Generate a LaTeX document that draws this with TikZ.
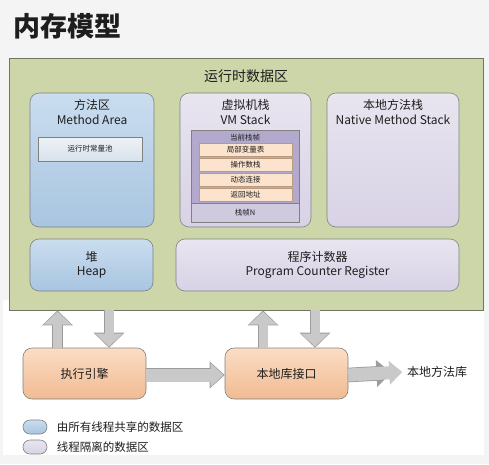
\documentclass[tikz,border=0pt]{standalone}
\usepackage{fontspec}
\setmainfont{Noto Sans CJK SC}
\usepackage{tikz}
\usetikzlibrary{arrows.meta,positioning}

\definecolor{paper}{HTML}{F4F4F4}
\definecolor{ink}{HTML}{1E1E1E}
\definecolor{edge}{HTML}{808080}
\definecolor{leaf}{HTML}{CDD6A8}
\definecolor{leafedge}{HTML}{6E7563}
\definecolor{blueA}{HTML}{CADDEF}
\definecolor{blueB}{HTML}{A8C5E0}
\definecolor{lilacA}{HTML}{E8E5F0}
\definecolor{lilacB}{HTML}{D8D2E5}
\definecolor{plum}{HTML}{B3A9CC}
\definecolor{plumlight}{HTML}{D0CADF}
\definecolor{rowfill}{HTML}{FBE3CD}
\definecolor{rowedge}{HTML}{B89A80}
\definecolor{peachA}{HTML}{FBDDC5}
\definecolor{peachB}{HTML}{F0BB92}
\definecolor{poolA}{HTML}{EEF2F6}
\definecolor{poolB}{HTML}{D8E2EC}
\definecolor{arrowfill}{HTML}{C9C9C9}
\definecolor{arrowline}{HTML}{9C9C9C}

\begin{document}
\begin{tikzpicture}[x=1pt,y=-1pt]
    \tikzstyle{every node}=[text=ink]
    \tikzstyle{area}=[draw=edge, line width=0.6pt, rounded corners=9pt]
    \tikzstyle{shared}=[area, top color=blueA, bottom color=blueB]
    \tikzstyle{private}=[area, top color=lilacA, bottom color=lilacB]
    \tikzstyle{engine}=[area, top color=peachA, bottom color=peachB, minimum width=123pt, minimum height=51pt, font=\fontsize{12}{14}\selectfont]
    \tikzstyle{caption}=[anchor=north, align=center, font=\fontsize{12}{15}\selectfont]
    \tikzstyle{tiny}=[font=\fontsize{7.5}{9}\selectfont, inner sep=0pt]
    \tikzstyle{row}=[tiny, draw=rowedge, fill=rowfill, line width=0.5pt, minimum width=93pt, minimum height=13pt]
    \tikzstyle{fatv}=[draw=arrowline, line width=10.6pt, -{Triangle[length=15pt,width=30pt]},
        postaction={draw=arrowfill, line width=9pt, shorten >=1.2pt, -{Triangle[length=13pt,width=27pt]}}]
    \tikzstyle{fath}=[draw=arrowline, line width=14.6pt, -{Triangle[length=15pt,width=26pt]},
        postaction={draw=arrowfill, line width=13pt, shorten >=1.2pt, -{Triangle[length=13pt,width=23pt]}}]

    % page
    \path[fill=paper, use as bounding box] (0,0) rectangle (489,464);
    \fill[white] (3,300) rectangle (484,455);
    \node[anchor=west, font=\fontsize{27}{27}\selectfont\bfseries] (title) at (10,26) {内存模型};

    % runtime data area
    \node[draw=leafedge, fill=leaf, line width=0.8pt, minimum width=474pt, minimum height=252pt] (rt) at (246,184) {};
    \node[anchor=north, font=\fontsize{14}{16}\selectfont] (rtlabel) at ([yshift=-9pt]rt.north) {运行时数据区};

    \node[shared, minimum width=124pt, minimum height=134pt] (method) at (92,160) {};
    \node[caption] (methodlabel) at ([yshift=-3pt]method.north) {方法区\\Method Area};
    \node[tiny, draw=edge, top color=poolA, bottom color=poolB, minimum width=104pt, minimum height=24pt] (pool) at (90,149) {运行时常量池};

    \node[private, minimum width=131pt, minimum height=134pt] (vm) at (245.5,160) {};
    \node[caption] (vmlabel) at ([yshift=-3pt]vm.north) {虚拟机栈\\VM Stack};
    \node[draw=edge, fill=plumlight, line width=0.5pt, minimum width=108pt, minimum height=92pt] (frames) at (245,176) {};
    \node[draw=edge, fill=plum, line width=0.5pt, minimum width=108pt, minimum height=73pt, anchor=north] (current) at (frames.north) {};
    \node[tiny] (currentlabel) at (245,138) {当前栈帧};
    \node[row] (locals) at (245.5,150) {局部变量表};
    \node[row, below=1.5pt of locals] (operands) {操作数栈};
    \node[row, below=1.5pt of operands] (linking) {动态连接};
    \node[row, below=1.5pt of linking] (retaddr) {返回地址};
    \node[tiny] (framen) at (245,212.5) {栈帧N};

    \node[private, minimum width=132pt, minimum height=134pt] (native) at (393,160) {};
    \node[caption] (nativelabel) at ([yshift=-3pt]native.north) {本地方法栈\\Native Method Stack};

    \node[shared, align=center, font=\fontsize{12}{14}\selectfont, minimum width=123pt, minimum height=52pt] (heap) at (91.5,265) {堆\\Heap};
    \node[private, align=center, font=\fontsize{12}{14}\selectfont, minimum width=283pt, minimum height=52pt] (pc) at (317.5,265) {程序计数器\\Program Counter Register};

    % engine and native interface
    \node[engine] (exec) at (84.5,373.5) {执行引擎};
    \node[engine] (iface) at (286.5,373.5) {本地库接口};
    \node[font=\fontsize{12}{14}\selectfont] (lib) at (437,372) {本地方法库};

    \draw[fatv] ([xshift=-27pt]exec.north) -- ([xshift=-27pt]exec.north |- rt.south);
    \draw[fatv] ([xshift=24.5pt]exec.north |- rt.south) -- ([xshift=24.5pt]exec.north);
    \draw[fatv] ([xshift=-23.5pt]iface.north) -- ([xshift=-23.5pt]iface.north |- rt.south);
    \draw[fatv] ([xshift=28.5pt]iface.north |- rt.south) -- ([xshift=28.5pt]iface.north);
    \draw[fath] ([yshift=-1.5pt]exec.east) -- ([yshift=-1.5pt]iface.west);
    \draw[fath, shorten >=12pt] ([yshift=-1.5pt]iface.east) -- (lib.west);

    % legend
    \node[shared, rounded corners=7pt, minimum width=24pt, minimum height=14pt] (keyshared) at (35,427) {};
    \node[anchor=west, font=\fontsize{11.5}{13}\selectfont, right=6pt of keyshared] (keysharedlabel) {由所有线程共享的数据区};
    \node[private, rounded corners=7pt, minimum width=24pt, minimum height=14pt] (keyprivate) at (35,447) {};
    \node[anchor=west, font=\fontsize{11.5}{13}\selectfont, right=6pt of keyprivate] (keyprivatelabel) {线程隔离的数据区};
\end{tikzpicture}
\end{document}
